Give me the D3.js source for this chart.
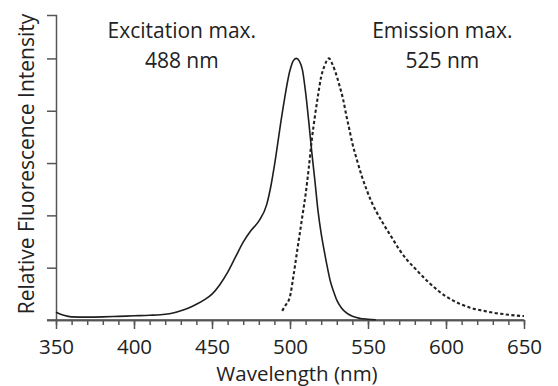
<!DOCTYPE html>
<html>
<head>
<meta charset="utf-8">
<script src="https://cdn.jsdelivr.net/npm/d3@7"></script>
<style>
  html, body { margin: 0; padding: 0; background: #fff; }
  svg { display: block; font-family: "Open Sans", "Noto Sans", sans-serif; }
</style>
</head>
<body>
<svg id="chart" width="558" height="386"></svg>
<script>
// Excitation spectrum (solid)
const excitationWavelength = [350,355,360,370,380,390,400,410,420,425,430,435,440,445,450,455,460,465,470,475,480,485,488,490,495,500,502,504,506,508,510,512,514,516,518,520,522,524,526,528,530,533,536,540,545,550,555];
const excitationValue      = [0.03,0.018,0.012,0.011,0.012,0.014,0.016,0.018,0.022,0.027,0.035,0.046,0.060,0.077,0.099,0.135,0.182,0.24,0.298,0.342,0.378,0.44,0.52,0.59,0.79,0.955,0.99,1.0,0.99,0.955,0.87,0.76,0.64,0.53,0.415,0.33,0.262,0.2,0.145,0.108,0.076,0.046,0.028,0.014,0.006,0.003,0.001];

// Emission spectrum (dashed)
const emissionWavelength = [495,497,500,502,504,506,508,510,512,514,516,518,520,522,525,527,529,532,534,536,538,540,543,546,549,552,555,558,561,565,570,575,580,585,590,595,600,605,610,615,620,625,630,635,640,645,650];
const emissionValue      = [0.035,0.055,0.09,0.16,0.24,0.32,0.40,0.48,0.58,0.69,0.78,0.86,0.93,0.97,1.0,0.98,0.95,0.89,0.845,0.785,0.73,0.675,0.61,0.55,0.50,0.455,0.418,0.386,0.356,0.318,0.27,0.23,0.198,0.167,0.138,0.112,0.09,0.073,0.059,0.048,0.04,0.034,0.028,0.024,0.02,0.017,0.015];

const xMajorTicks = [350,400,450,500,550,600,650];
const xMinorTicks = d3.range(350, 651, 10);
const yTicks = [0,0.2,0.4,0.6,0.8,1.0];

const annotations = [
  {lines: ["Excitation max.", "488 nm"], wl: 430},
  {lines: ["Emission max.", "525 nm"], wl: 597}
];

const xTitle = "Wavelength (nm)";
const yTitle = "Relative Fluorescence Intensity";

const svg = d3.select("#chart");
const x = d3.scaleLinear().domain([350, 650]).range([56, 524]);
const y = d3.scaleLinear().domain([0, 1.166]).range([320, 15]);

const axisColor = "#555";
const textColor = "#222";

// y axis
svg.append("g").attr("transform", "translate(56,0)")
  .call(d3.axisLeft(y).tickValues(yTicks).tickFormat("").tickSize(9).tickSizeOuter(9));
// x axis minor
svg.append("g").attr("transform", "translate(0,320)")
  .call(d3.axisBottom(x).tickValues(xMinorTicks).tickFormat("").tickSize(5).tickSizeOuter(0));
// x axis major
const xAxis = svg.append("g").attr("transform", "translate(0,320)")
  .call(d3.axisBottom(x).tickValues(xMajorTicks).tickFormat(d3.format("d")).tickSize(9).tickSizeOuter(0));

svg.selectAll(".domain, .tick line").attr("stroke", axisColor).attr("stroke-width", 1.5);
xAxis.selectAll("text").attr("font-size", 20.5).attr("fill", textColor)
  .attr("font-family", "'Open Sans', sans-serif").attr("dy", null).attr("y", 33.5);

// extend x baseline to the left to meet y outer tick
svg.append("line")
  .attr("x1", 47).attr("x2", x(650)).attr("y1", 320).attr("y2", 320)
  .attr("stroke", axisColor).attr("stroke-width", 1.5);

const line = d3.line().x(d => x(d[0])).y(d => y(d[1])).curve(d3.curveMonotoneX);

svg.append("path")
  .datum(d3.zip(excitationWavelength, excitationValue))
  .attr("d", line).attr("fill", "none").attr("stroke", "#1e1e1e").attr("stroke-width", 1.6);

svg.append("path")
  .datum(d3.zip(emissionWavelength, emissionValue))
  .attr("d", line).attr("fill", "none").attr("stroke", "#222").attr("stroke-width", 2.1)
  .attr("stroke-dasharray", "3.2,2.4");

// annotations
annotations.forEach(a => {
  a.lines.forEach((t, i) => {
    svg.append("text").attr("x", x(a.wl) + 1).attr("y", 38 + i * 30)
      .attr("text-anchor", "middle").attr("font-size", 21).attr("fill", textColor).text(t);
  });
});

// axis titles
svg.append("text").attr("x", 297).attr("y", 381).attr("text-anchor", "middle")
  .attr("font-size", 20.5).attr("fill", textColor).text(xTitle);
svg.append("text").attr("transform", "translate(34,164) rotate(-90)")
  .attr("text-anchor", "middle").attr("font-size", 21).attr("fill", textColor).text(yTitle);
</script>
</body>
</html>
